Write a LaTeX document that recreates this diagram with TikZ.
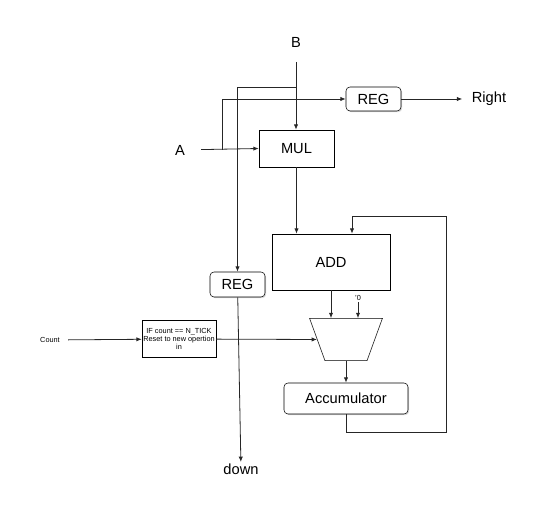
\documentclass[tikz,border=0pt]{standalone}
\usepackage{fontspec}
\setmainfont{Liberation Sans}
\usepackage{tikz}
\usetikzlibrary{positioning,arrows.meta,shapes.geometric,shadows}
\tikzset{
  blk/.style={draw, fill=white, drop shadow={shadow xshift=0.9pt, shadow yshift=-0.9pt, opacity=0.3}, font=\fontsize{11}{12}\selectfont, inner sep=2pt},
  rblk/.style={blk, rounded corners=3pt},
  tickbox/.style={draw, fill=white, font=\fontsize{5.5}{6.2}\selectfont, align=center, inner sep=1pt, minimum width=55.5pt, minimum height=27.75pt},
  muxbox/.style={draw, fill=white, trapezium, trapezium left angle=110, trapezium right angle=110, minimum width=54.75pt, minimum height=27.75pt, inner sep=1pt},
  lbl/.style={font=\fontsize{11}{12}\selectfont, inner sep=1pt},
  slbl/.style={font=\fontsize{5.5}{6}\selectfont, inner sep=1pt},
  flow/.style={-{Latex[length=4pt,width=3.2pt]}, line width=0.6pt, draw=black!85},
}
\begin{document}
\begin{tikzpicture}[x=0.75pt,y=-0.75pt]
\useasboundingbox (0,0) rectangle (547,516);
\node[lbl] (b) at (296,42) {B};
\node[lbl] (a) at (180,150) {A};
\node[lbl] (right) at (489,99) {Right};
\node[lbl] (down) at (241,469) {down};
\node[slbl] (count) at (50,340) {Count};
\node[slbl] (zero) at (358,298) {'0};
\node[blk, minimum width=56.25pt, minimum height=27.75pt] (mul) at (296.5,148.5) {MUL};
\node[blk, minimum width=88.5pt, minimum height=42pt] (add) at (331,262) {ADD};
\node[rblk, minimum width=41.25pt, minimum height=18pt] (regr) at (373.5,99) {REG};
\node[rblk, minimum width=41.25pt, minimum height=18.75pt] (regl) at (237.5,284.5) {REG};
\node[tickbox] (tick) at (179,339) {IF count == N\_TICK\\Reset to new opertion\\in};
\node[muxbox] (mux) at (346,339.5) {};
\node[rblk, minimum width=93pt, minimum height=23.25pt] (acc) at (346,398.5) {Accumulator};
\coordinate (asplit) at (222,150);
\coordinate (bsplit) at (296,87);
\coordinate (fbbot) at (446,432);
\coordinate (fbtop) at (446,216);
% inputs
\draw[flow, shorten <=10pt] (b) -- (b |- mul.north);
\draw[flow] (bsplit) -| (regl.north);
\draw[flow, shorten <=11pt] (a) -- (mul.west);
\draw[flow] (asplit) |- (regr.west);
\draw[flow, shorten >=6pt] (regr) -- (right);
\draw[flow] (regl) -- (down);
% datapath
\draw[flow] (mul.south) -- (mul.south |- add.north);
\draw[flow] (add.south) -- (add.south |- mux.north);
\draw[flow] (zero.south) -- (zero.south |- mux.north);
\draw[flow, shorten <=5pt] (count) -- (tick);
\draw[flow] (tick) -- (mux.west);
\draw[flow] (mux.south) -- (acc.north);
\draw[flow] (acc.south) |- (fbbot) -- (fbtop) -| ([xshift=15.75pt]add.north);
\end{tikzpicture}
\end{document}
